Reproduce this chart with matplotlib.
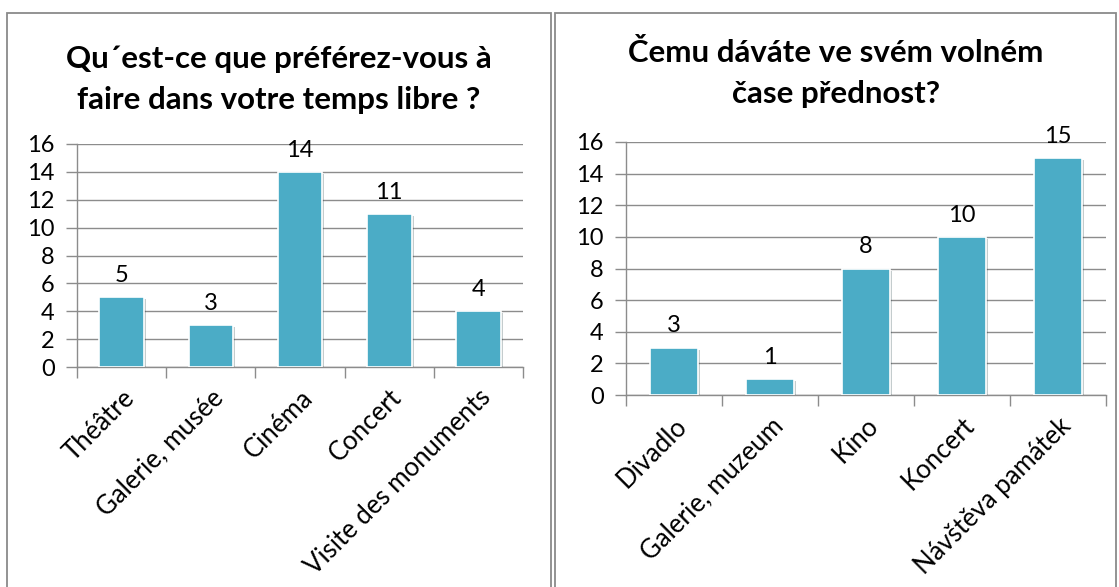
import matplotlib
matplotlib.use("Agg")
import matplotlib.pyplot as plt
import matplotlib.patheffects as pe
from matplotlib.patches import Rectangle
import numpy as np

plt.rcParams['font.family'] = ['Lato', 'DejaVu Sans']

fr_title = "Qu´est-ce que préférez-vous à\nfaire dans votre temps libre ?"
fr_labels = ["Théâtre", "Galerie, musée", "Cinéma", "Concert", "Visite des monuments"]
fr_values = [5, 3, 14, 11, 4]

cz_title = "Čemu dáváte ve svém volném\nčase přednost?"
cz_labels = ["Divadlo", "Galerie, muzeum", "Kino", "Koncert", "Návštěva památek"]
cz_values = [3, 1, 8, 10, 15]

bar_color = "#4BACC6"
grid_color = "#8C8C8C"

W, H = 1119, 587
fig = plt.figure(figsize=(W / 100, H / 100), dpi=100)


def px(x0, y0, x1, y1):
    # pixel box (top-left origin) -> figure fraction rect
    return [x0 / W, 1 - y1 / H, (x1 - x0) / W, (y1 - y0) / H]


def panel(rect, frame, title, title_xy, labels, values):
    # outer frame of the chart
    fx0, fy0, fx1 = frame
    fig.patches.append(Rectangle((fx0 / W, -0.05), (fx1 - fx0) / W, 1 - fy0 / H + 0.05,
                                 transform=fig.transFigure, fill=False,
                                 edgecolor="#8A8A8A", linewidth=1.3))
    fig.text(title_xy[0] / W, 1 - title_xy[1] / H, title, ha="center", va="top",
             fontsize=22.5, fontweight="bold", linespacing=1.55)

    ax = fig.add_axes(px(*rect))
    x = np.arange(len(values))
    bars = ax.bar(x, values, width=0.5, color=bar_color, edgecolor="white",
                  linewidth=1.2, zorder=3)
    for b in bars:
        b.set_path_effects([pe.SimplePatchShadow(offset=(1.5, -1.5), alpha=0.25),
                            pe.Normal()])
    for xi, v in zip(x, values):
        ax.annotate(str(v), (xi, v), xytext=(0, 8), textcoords="offset points",
                    ha="center", va="bottom", fontsize=17)

    ax.set_xlim(-0.5, len(values) - 0.5)
    ax.set_ylim(0, 16)
    ax.set_yticks(range(0, 17, 2))
    ax.grid(axis="y", color=grid_color, linewidth=1, zorder=0)
    ax.set_xticks(x)
    ax.set_xticklabels(labels, rotation=45, ha="right", va="top",
                       rotation_mode="anchor", fontsize=18.5)
    ax.set_xticks(np.arange(len(values) + 1) - 0.5, minor=True)
    ax.tick_params(axis="x", which="major", length=0, pad=13)
    ax.tick_params(axis="x", which="minor", length=8, color=grid_color, width=1)
    ax.tick_params(axis="y", length=8, color=grid_color, width=1, labelsize=17, pad=8)
    for s in ["top", "right"]:
        ax.spines[s].set_visible(False)
    for s in ["left", "bottom"]:
        ax.spines[s].set_color(grid_color)
        ax.spines[s].set_linewidth(1)
    return ax


panel((77, 144, 523, 367), (7, 13, 551), fr_title, (279, 45), fr_labels, fr_values)
panel((626, 142, 1106, 395), (555, 13, 1116), cz_title, (836, 39), cz_labels, cz_values)

fig.savefig("out.png", dpi=100)
